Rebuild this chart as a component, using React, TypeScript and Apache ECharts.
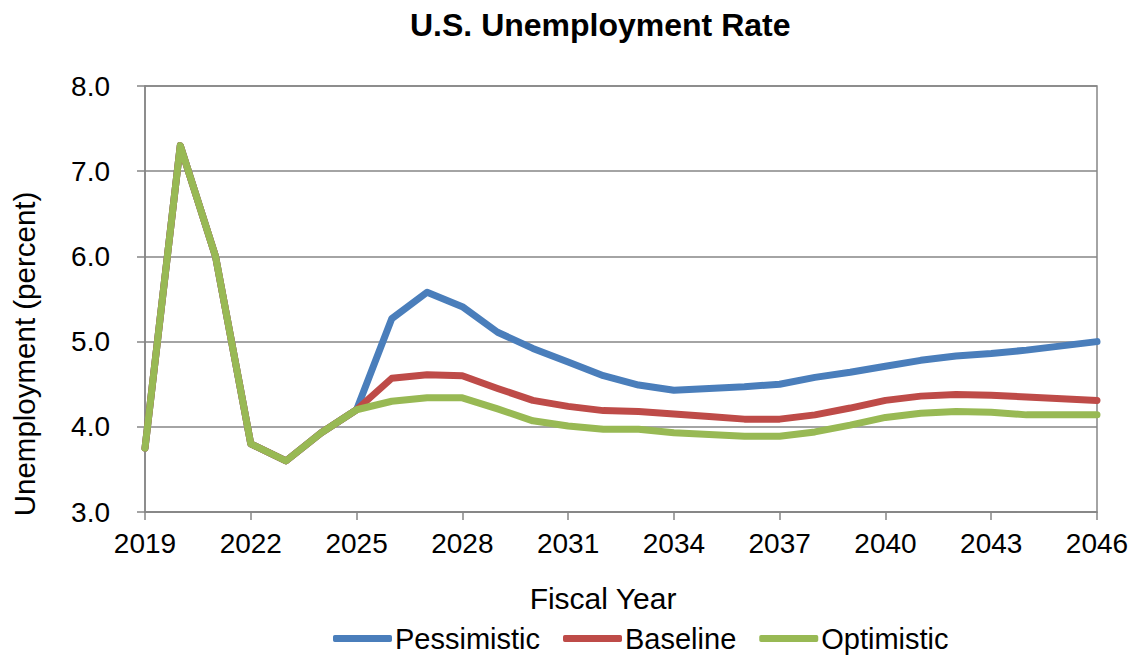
import React, { useEffect, useRef } from "react";
import * as echarts from "echarts";

const years: string[] = [
  "2019", "2020", "2021", "2022", "2023", "2024", "2025", "2026", "2027", "2028",
  "2029", "2030", "2031", "2032", "2033", "2034", "2035", "2036", "2037", "2038",
  "2039", "2040", "2041", "2042", "2043", "2044", "2045", "2046",
];

const pessimistic: number[] = [
  3.75, 7.3, 6.0, 3.8, 3.6, 3.93, 4.2, 5.27, 5.58, 5.41,
  5.11, 4.92, 4.76, 4.6, 4.49, 4.43, 4.45, 4.47, 4.5, 4.58,
  4.64, 4.71, 4.78, 4.83, 4.86, 4.9, 4.95, 5.0,
];

const baseline: number[] = [
  3.75, 7.3, 6.0, 3.8, 3.6, 3.93, 4.2, 4.57, 4.61, 4.6,
  4.45, 4.31, 4.24, 4.19, 4.18, 4.15, 4.12, 4.09, 4.09, 4.14,
  4.22, 4.31, 4.36, 4.38, 4.37, 4.35, 4.33, 4.31,
];

const optimistic: number[] = [
  3.75, 7.3, 6.0, 3.8, 3.6, 3.93, 4.2, 4.3, 4.34, 4.34,
  4.21, 4.07, 4.01, 3.97, 3.97, 3.93, 3.91, 3.89, 3.89, 3.94,
  4.02, 4.11, 4.16, 4.18, 4.17, 4.14, 4.14, 4.14,
];

const seriesNames: string[] = ["Pessimistic", "Baseline", "Optimistic"];
const seriesColors: string[] = ["#4A7EBB", "#BE4B48", "#98B954"];

const FONT = "'Liberation Sans', Arial, sans-serif";
const GRID = "#868686";

export default function App() {
  const ref = useRef<HTMLDivElement>(null);

  useEffect(() => {
    if (!ref.current) return;
    const chart = echarts.init(ref.current, undefined, { renderer: "svg" });
    const data = [pessimistic, baseline, optimistic];
    chart.setOption({
      animation: false,
      backgroundColor: "#ffffff",
      textStyle: { fontFamily: FONT },
      title: {
        text: "U.S. Unemployment Rate",
        left: 410,
        top: 9,
        padding: 0,
        textStyle: { fontFamily: FONT, fontSize: 32, fontWeight: "bold", color: "#000" },
      },
      legend: {
        data: seriesNames,
        bottom: 5,
        left: 333,
        padding: 0,
        icon: "roundRect",
        itemWidth: 59,
        itemHeight: 7,
        itemGap: 23,
        textStyle: { fontFamily: FONT, fontSize: 29, color: "#000", padding: [0, 0, 0, -2] },
      },
      graphic: [
        {
          type: "text",
          x: 24,
          y: 354,
          rotation: Math.PI / 2,
          style: {
            text: "Unemployment (percent)",
            fontFamily: FONT,
            fontSize: 29.5,
            fill: "#000",
            align: "center",
            verticalAlign: "middle",
          },
        },
        {
          type: "text",
          x: 603,
          y: 598,
          style: {
            text: "Fiscal Year",
            fontFamily: FONT,
            fontSize: 30,
            fill: "#000",
            align: "center",
            verticalAlign: "middle",
          },
        },
      ],
      grid: {
        left: 145,
        right: 38,
        top: 86,
        bottom: 146,
        show: true,
        borderColor: GRID,
        borderWidth: 1.5,
        containLabel: false,
      },
      xAxis: {
        type: "category",
        data: years,
        boundaryGap: false,
        axisLine: { lineStyle: { color: GRID, width: 1.5 } },
        axisTick: { show: true, interval: 2, length: 8, lineStyle: { color: GRID, width: 1.5 } },
        axisLabel: { interval: 2, margin: 17, fontFamily: FONT, fontSize: 28, color: "#000" },
        splitLine: { show: false },
      },
      yAxis: {
        type: "value",
        min: 3,
        max: 8,
        interval: 1,
        axisLine: { show: true, lineStyle: { color: GRID, width: 1.5 } },
        axisTick: { show: true, length: 8, lineStyle: { color: GRID, width: 1.5 } },
        axisLabel: {
          margin: 35,
          fontFamily: FONT,
          fontSize: 28,
          color: "#000",
          formatter: (v: number) => v.toFixed(1),
        },
        splitLine: { show: true, lineStyle: { color: GRID, width: 1.5 } },
      },
      series: seriesNames.map((name, i) => ({
        name,
        type: "line",
        data: data[i],
        showSymbol: false,
        symbol: "none",
        color: seriesColors[i],
        lineStyle: { width: 7, color: seriesColors[i], cap: "round", join: "round" },
        z: 2 + i,
      })),
    });
    return () => chart.dispose();
  }, []);

  return (
    <div
      ref={ref}
      style={{ position: "absolute", left: 0, top: 0, width: 1135, height: 658 }}
    />
  );
}
